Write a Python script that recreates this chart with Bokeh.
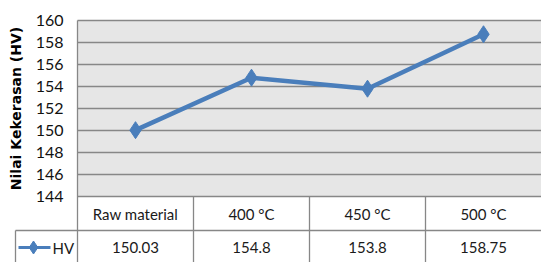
import math
from bokeh.plotting import figure
from bokeh.core.properties import value
from bokeh.embed import file_html
from bokeh.resources import INLINE

# ---- data ----
categories = ["Raw material", "400 °C", "450 °C", "500 °C"]
hv = [150.03, 154.8, 153.8, 158.75]
hv_labels = ["150.03", "154.8", "153.8", "158.75"]
y_ticks = [144, 146, 148, 150, 152, 154, 156, 158, 160]
series_name = "HV"
y_title = "Nilai Kekerasan (HV)"

# ---- layout (pixels inside the figure) ----
W, H = 541, 262
PLOT_L, PLOT_T, PLOT_B = 77, 20, 196
COL_W = 116
ROW_LINE = 230
LEG_L = 15
Y_MIN, Y_MAX = y_ticks[0], y_ticks[-1]
PPY = (PLOT_B - PLOT_T) / (Y_MAX - Y_MIN)

def xd(px):
    return -0.5 + (px - PLOT_L) / COL_W

def yd(py):
    return Y_MAX - (py - PLOT_T) / PPY

n = len(categories)
xs = list(range(n))

FONT = value("Lato")
BLUE = "#4a7ebb"
GRID = "#878787"
TXT = "#1a1a1a"

p = figure(width=W, height=H, output_backend="svg", toolbar_location=None,
           x_range=(xd(0), xd(W)), y_range=(yd(H), yd(0)),
           x_axis_type=None, y_axis_type=None,
           min_border=0, min_border_left=0, min_border_right=0,
           min_border_top=0, min_border_bottom=0)
p.outline_line_color = None
p.background_fill_color = "#ffffff"
p.border_fill_color = "#ffffff"
p.xgrid.visible = False
p.ygrid.visible = False

# plot area background
p.quad(left=[-0.5], right=[n - 0.5], bottom=[Y_MIN], top=[Y_MAX],
       fill_color="#e6e6e6", line_color=None)

# horizontal gridlines
p.segment(x0=[-0.5] * len(y_ticks), x1=[n - 0.5] * len(y_ticks),
          y0=y_ticks, y1=y_ticks, line_color=GRID, line_width=1.3)

# table lines
v_x = [-0.5] + [i + 0.5 for i in range(n - 1)] + [xd(LEG_L)]
v_y0 = [Y_MAX] + [Y_MIN] * (n - 1) + [yd(ROW_LINE)]
v_y1 = [yd(H)] * len(v_x)
p.segment(x0=v_x, x1=v_x, y0=v_y0, y1=v_y1, line_color=GRID, line_width=1.3)
p.segment(x0=[xd(LEG_L)], x1=[n - 0.5], y0=[yd(ROW_LINE)], y1=[yd(ROW_LINE)],
          line_color=GRID, line_width=1.3)

# series
p.line(xs, hv, line_color=BLUE, line_width=4.5)
p.scatter(xs, hv, marker="diamond", size=17, fill_color=BLUE, line_color=BLUE)

# y tick labels
p.text(x=[-0.5] * len(y_ticks), y=y_ticks, text=[str(t) for t in y_ticks],
       x_offset=-14, text_align="right", text_baseline="middle",
       text_font=FONT, text_font_size="16px", text_color="#111111")

# y title
p.text(x=[xd(15)], y=[(Y_MIN + Y_MAX) / 2], text=[y_title], angle=math.pi / 2,
       text_align="center", text_baseline="middle",
       text_font=value("DejaVu Sans"), text_font_style="bold",
       text_font_size="14px", text_color="#000000")

# table header (categories)
p.text(x=xs, y=[yd(213)] * n, text=categories, text_align="center",
       text_baseline="middle", text_font=FONT, text_font_size="15px",
       text_color=TXT)
# table values
p.text(x=xs, y=[yd(247)] * n, text=hv_labels, text_align="center",
       text_baseline="middle", text_font=FONT, text_font_size="15px",
       text_color=TXT)

# legend key inside table
ky = yd(247)
p.line([xd(18), xd(50)], [ky, ky], line_color=BLUE, line_width=3)
p.scatter([xd(33)], [ky], marker="diamond", size=13, fill_color=BLUE, line_color=BLUE)
p.text(x=[xd(52)], y=[ky], text=[series_name], text_align="left",
       text_baseline="middle", text_font=FONT, text_font_size="15px",
       text_color=TXT)

open("out.html", "w").write(file_html(p, INLINE))
